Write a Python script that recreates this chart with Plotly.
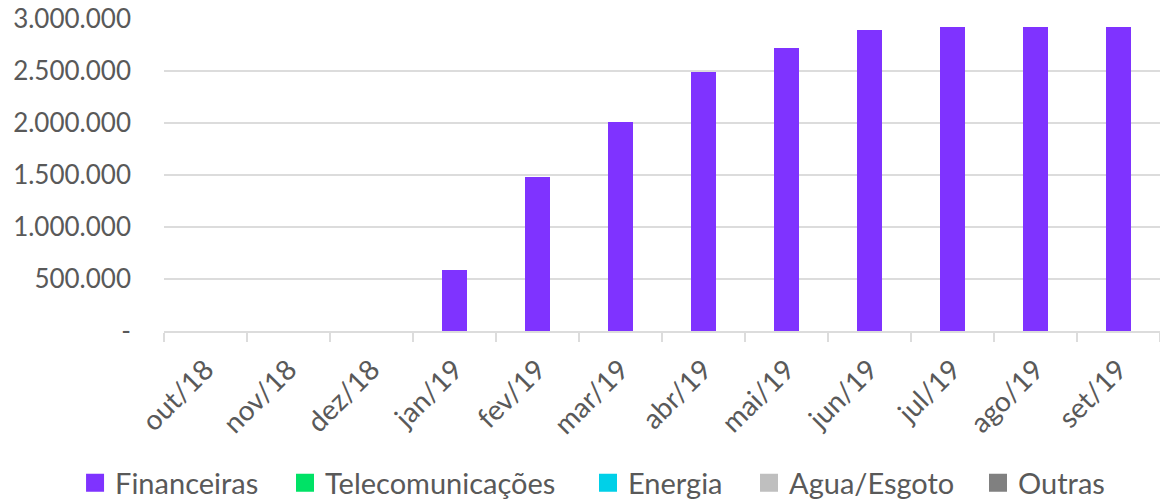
import plotly.graph_objects as go

categories = ["out/18", "nov/18", "dez/18", "jan/19", "fev/19", "mar/19",
              "abr/19", "mai/19", "jun/19", "jul/19", "ago/19", "set/19"]

financeiras = [0, 0, 0, 585000, 1480000, 2012000, 2490000, 2720000,
               2895000, 2920000, 2920000, 2920000]
telecomunicacoes = [0] * 12
energia = [0] * 12
agua_esgoto = [0] * 12
outras = [0] * 12

series_names = ["Financeiras", "Telecomunicações", "Energia", "Agua/Esgoto", "Outras"]
series_values = [financeiras, telecomunicacoes, energia, agua_esgoto, outras]
series_colors = ["#7F33FF", "#00E266", "#00D0E8", "#BFBFBF", "#808080"]

y_tickvals = [0, 500000, 1000000, 1500000, 2000000, 2500000, 3000000]
y_ticktext = ["-", "500.000", "1.000.000", "1.500.000", "2.000.000", "2.500.000", "3.000.000"]

legend_x = [0.0647, 0.2457, 0.5069, 0.6457, 0.8431]

FONT = "Lato"
TEXT_COLOR = "#595959"
GRID = "#DCDCDC"

fig = go.Figure()

for name, vals, col in zip(series_names, series_values, series_colors):
    fig.add_trace(go.Bar(x=categories, y=vals, name=name, marker=dict(color=col, line=dict(width=0)),
                         showlegend=False))

for i, (name, col) in enumerate(zip(series_names, series_colors)):
    lg = "legend" if i == 0 else f"legend{i+1}"
    fig.add_trace(go.Scatter(x=[None], y=[None], mode="markers", name=name,
                             marker=dict(symbol="square", size=16, color=col,
                                         line=dict(color=col, width=2)),
                             showlegend=True, legend=lg))

layout_legends = {}
for i, lx in enumerate(legend_x):
    key = "legend" if i == 0 else f"legend{i+1}"
    layout_legends[key] = dict(x=lx, xanchor="left", y=0.036, yanchor="middle",
                               xref="container", yref="container",
                               orientation="h", bgcolor="rgba(0,0,0,0)", borderwidth=0,
                               font=dict(family=FONT, size=29, color=TEXT_COLOR))

fig.update_layout(
    width=1160, height=501,
    margin=dict(l=164, r=0, t=19, b=170, autoexpand=False),
    paper_bgcolor="white", plot_bgcolor="white",
    barmode="stack", bargap=0.69,
    font=dict(family=FONT, size=26, color=TEXT_COLOR),
    **layout_legends,
)

fig.update_xaxes(
    type="category", categoryorder="array", categoryarray=categories,
    showline=True, linecolor=GRID, linewidth=2,
    ticks="outside", tickson="boundaries", ticklen=9, tickwidth=2, tickcolor=GRID,
    tickangle=-45, ticklabelstandoff=9, automargin=False,
    tickfont=dict(family=FONT, size=28, color=TEXT_COLOR),
    showgrid=False, zeroline=False,
)
fig.update_yaxes(
    range=[0, 3000000], tickvals=y_tickvals, ticktext=y_ticktext,
    showgrid=True, gridcolor=GRID, gridwidth=2, zeroline=False,
    ticks="", ticklabelstandoff=32, automargin=False,
    tickfont=dict(family=FONT, size=26, color=TEXT_COLOR),
)

fig.write_html("out.html", config={"displayModeBar": False},
               post_script="document.body.style.margin='0';document.body.style.overflow='hidden';")
